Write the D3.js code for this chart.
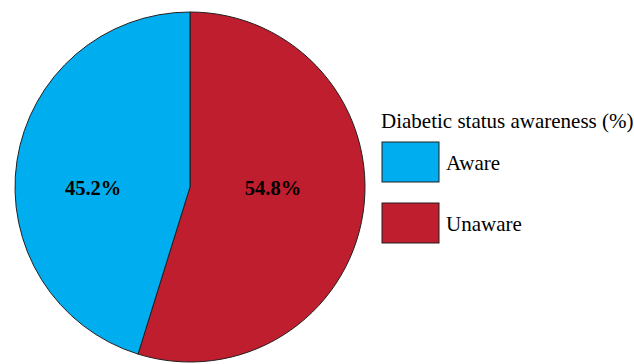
<!DOCTYPE html>
<html>
<head>
<meta charset="utf-8">
<script src="https://cdn.jsdelivr.net/npm/d3@7"></script>
<style>
  html, body { margin: 0; padding: 0; background: #fff; }
  svg { display: block; }
</style>
</head>
<body>
<svg id="chart" width="634" height="364"></svg>
<script>
// Diabetic status awareness shares
const categories = ["Unaware", "Aware"];
const values = [54.8, 45.2];
const colors = ["#BE1E2D", "#00AEEF"];
const legendTitle = "Diabetic status awareness (%)";
const legendOrder = ["Aware", "Unaware"];

const svg = d3.select("#chart");
const cx = 190, cy = 187, r = 175;
const serif = "'Liberation Serif', 'Times New Roman', serif";

const color = d3.scaleOrdinal().domain(categories).range(colors);

const pie = d3.pie().sort(null).value(d => d.value);
const arcs = pie(categories.map((c, i) => ({ name: c, value: values[i] })));

const arc = d3.arc().innerRadius(0).outerRadius(r);
// distance of each percentage label from the centre, per slice
const labelRadius = [0.48 * r, 0.56 * r];

const g = svg.append("g").attr("transform", `translate(${cx},${cy})`);

g.selectAll("path.slice")
  .data(arcs)
  .join("path")
  .attr("class", "slice")
  .attr("d", arc)
  .attr("fill", d => color(d.data.name))
  .attr("stroke", "#231F20")
  .attr("stroke-width", 1);

g.selectAll("text.pct")
  .data(arcs)
  .join("text")
  .attr("class", "pct")
  .attr("x", (d, i) => Math.sin((d.startAngle + d.endAngle) / 2) * labelRadius[i])
  .attr("y", 8)
  .attr("text-anchor", "middle")
  .attr("font-family", serif)
  .attr("font-weight", "bold")
  .attr("font-size", 20.5)
  .attr("fill", "#000")
  .text(d => d3.format(".1f")(d.data.value) + "%");

// Legend
const legend = svg.append("g").attr("transform", "translate(381,0)");
legend.append("text")
  .attr("x", 0)
  .attr("y", 128)
  .attr("font-family", serif)
  .attr("font-size", 21)
  .attr("fill", "#000")
  .text(legendTitle);

const items = legend.selectAll("g.item")
  .data(legendOrder)
  .join("g")
  .attr("class", "item")
  .attr("transform", (d, i) => `translate(1,${142 + i * 61})`);

items.append("rect")
  .attr("width", 57)
  .attr("height", 40)
  .attr("fill", d => color(d))
  .attr("stroke", "#231F20")
  .attr("stroke-width", 1);

items.append("text")
  .attr("x", 64)
  .attr("y", 28)
  .attr("font-family", serif)
  .attr("font-size", 21)
  .attr("fill", "#000")
  .text(d => d);
</script>
</body>
</html>
